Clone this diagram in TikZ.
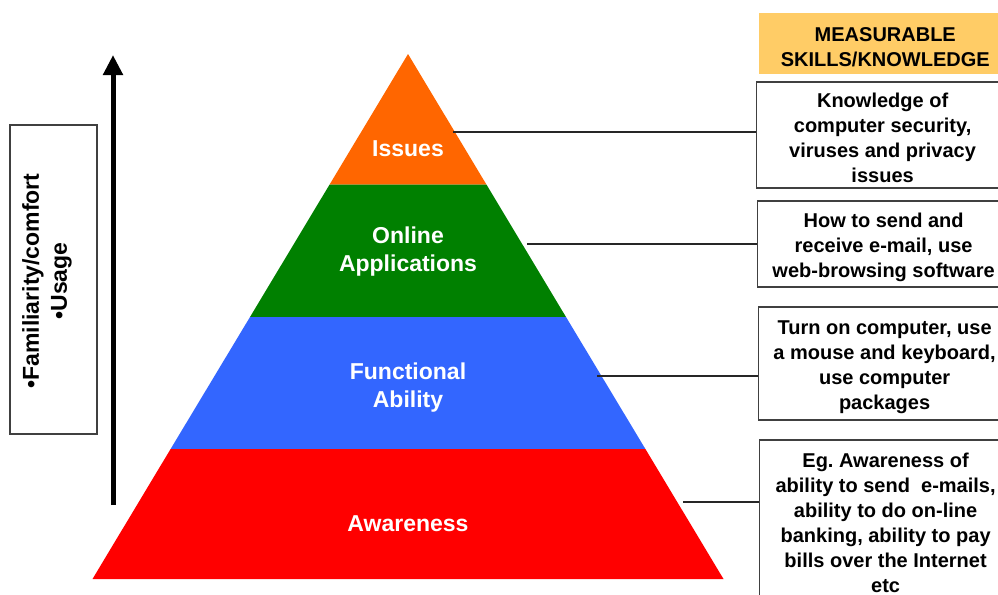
\documentclass[tikz,border=0pt]{standalone}
\usepackage{fontspec}
\setmainfont{Liberation Sans}
\usetikzlibrary{arrows.meta}
\frenchspacing
\newcommand{\toppad}{\rule{0pt}{15.4pt}}
\definecolor{issuesc}{HTML}{FF6600}
\definecolor{onlinec}{HTML}{008000}
\definecolor{funcc}{HTML}{3366FF}
\definecolor{awarec}{HTML}{FF0000}
\definecolor{headc}{HTML}{FFCC66}
\definecolor{edgec}{HTML}{404040}
\tikzset{
  boxtext/.style={font=\fontsize{15}{18.75}\selectfont\bfseries, align=center, inner sep=0pt},
  skillbox/.style={boxtext, draw=edgec, line width=0.9pt, anchor=west, minimum width=189pt},
  level/.style={font=\fontsize{17.25}{21}\selectfont\bfseries, text=white, align=center, inner sep=0pt},
  link/.style={draw=black!85, line width=0.8pt},
}
\begin{document}
\begin{tikzpicture}[x=0.75pt,y=-0.75pt]
\useasboundingbox (0,0) rectangle (998,594);
\clip (0,0) rectangle (998,594);
% pyramid bands
\fill[issuesc] (408,54) -- (486.4,184.5) -- (329.6,184.5) -- cycle;
\fill[onlinec] (329.6,184.5) -- (486.4,184.5) -- (566,317) -- (250,317) -- cycle;
\fill[funcc] (250,317) -- (566,317) -- (645.4,449) -- (170.6,449) -- cycle;
\fill[awarec] (170.6,449) -- (645.4,449) -- (723.5,579) -- (92.5,579) -- cycle;
% level labels
\node[level] (issues) at (408,149) {Issues};
\node[level] (online) at (408,252) {Online\\Applications};
\node[level] (func) at (408,388) {Functional\\Ability};
\node[level] (aware) at (408,524) {Awareness};
% header
\node[boxtext, fill=headc, anchor=west, minimum width=189pt, minimum height=45.75pt] (head) at (759,43.5) {\toppad MEASURABLE\\SKILLS/KNOWLEDGE};
% skill boxes
\node[skillbox, minimum height=79.5pt] (bissues) at (756,135) {\toppad Knowledge of\\computer security,\\viruses and privacy\\issues};
\node[skillbox, minimum height=64.5pt] (bonline) at (757,244) {\toppad How to send and\\receive e-mail, use\\web-browsing software};
\node[skillbox, minimum height=84.75pt] (bfunc) at (758,363.5) {\toppad Turn on computer, use\\a mouse and keyboard,\\use computer\\packages};
\node[skillbox, minimum height=120pt] (baware) at (759,520) {\toppad Eg. Awareness of\\ability to send\ \ e-mails,\\ability to do on-line\\banking, ability to pay\\bills over the Internet\\etc};
% connectors
\coordinate (cissues) at (453,132);
\coordinate (conline) at (527,244);
\coordinate (cfunc) at (597,376);
\coordinate (caware) at (683,502);
\draw[link] (cissues) -- (cissues -| bissues.west);
\draw[link] (conline) -- (conline -| bonline.west);
\draw[link] (cfunc) -- (cfunc -| bfunc.west);
\draw[link] (caware) -- (caware -| baware.west);
% left box and arrow
\node[draw=edgec, line width=0.9pt, minimum width=65.25pt, minimum height=231.75pt, inner sep=0pt] (leftbox) at (53.5,279.5) {};
\node[level, text=black, rotate=90] (leftlabel) at (47,281) {\textbullet Familiarity/comfort\\\textbullet Usage};
\coordinate (arrowbot) at (113,505);
\coordinate (arrowtop) at (113,55);
\draw[line width=3.75pt, -{Triangle[width=14.25pt,length=15pt]}] (arrowbot) -- (arrowtop);
\end{tikzpicture}
\end{document}
